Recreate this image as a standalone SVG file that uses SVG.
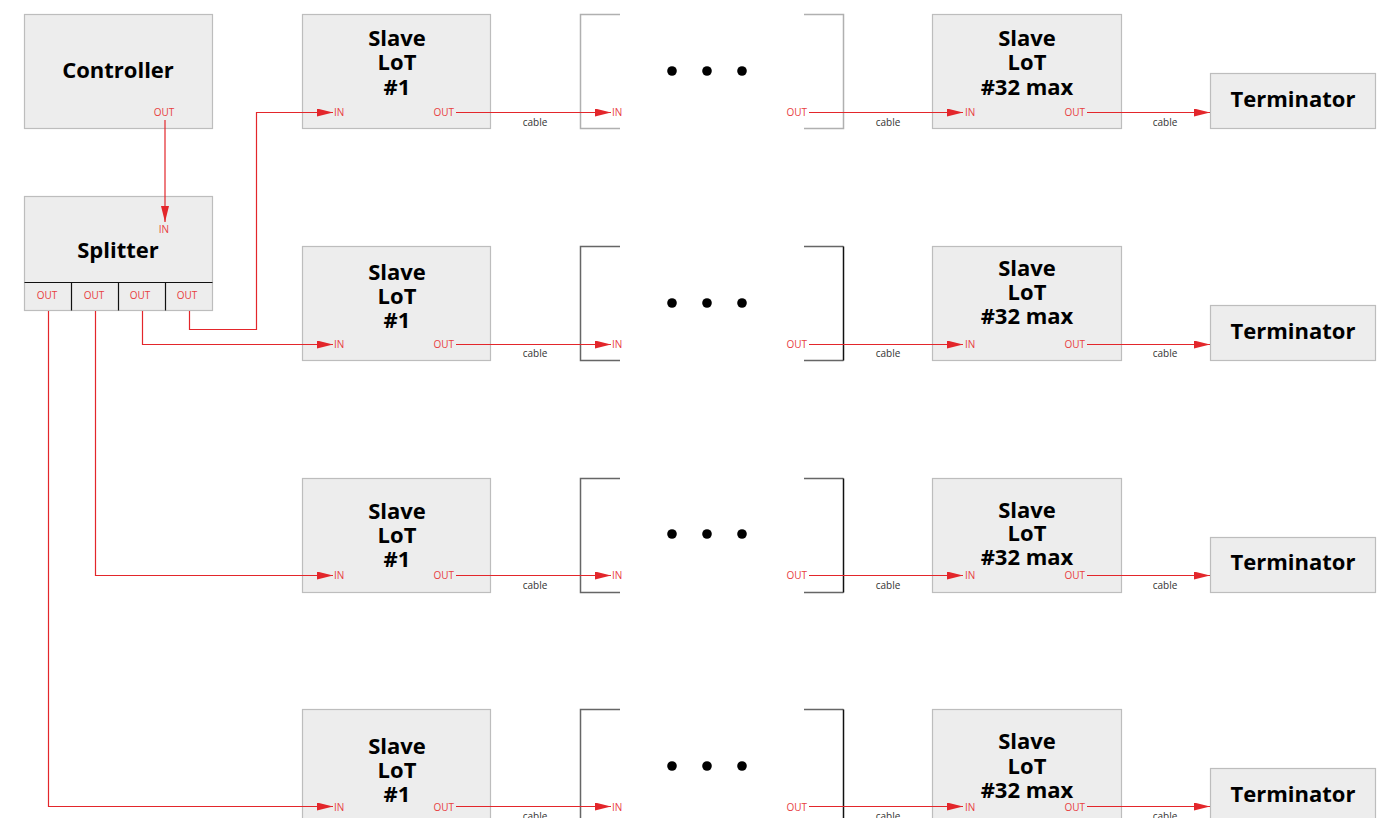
<svg xmlns="http://www.w3.org/2000/svg" width="1385" height="818" viewBox="0 0 1385 818">
<style>
.box{fill:#ededed;stroke:#bdbdbd;stroke-width:1.2}
.t{font-family:"Open Sans","Noto Sans",sans-serif;font-weight:bold;font-size:22px;fill:#000;text-anchor:middle}
.p{font-family:"Open Sans","Noto Sans",sans-serif;font-size:10px;fill:#e8403f}
.pm{text-anchor:middle}
.pe{text-anchor:end}
.c{font-family:"Open Sans","Noto Sans",sans-serif;font-size:10px;fill:#333;text-anchor:middle}
.w{fill:none;stroke:#e3262b;stroke-width:1.2}
.br1{fill:none;stroke:#b0b0b0;stroke-width:1.5}
.brl{fill:none;stroke:#666;stroke-width:1.5}
.brr{fill:none;stroke:#111;stroke-width:1.5}
.dv{stroke:#111;stroke-width:1.2}
</style>
<defs>
<marker id="ah" markerWidth="16" markerHeight="8" refX="16" refY="4" orient="auto" markerUnits="userSpaceOnUse">
<path d="M0,0 L16,4 L0,8 z" fill="#e3262b"/>
</marker>
</defs>

<g id="controller">
<rect class="box" x="24.5" y="14.5" width="188" height="114"/>
<text class="t" x="118" y="78">Controller</text>
<text class="p pm" x="164" y="116">OUT</text>
</g>

<g id="splitter">
<rect class="box" x="24.5" y="196.5" width="188" height="114"/>
<text class="p pm" x="164" y="233">IN</text>
<text class="t" x="118" y="258">Splitter</text>
<line class="dv" x1="24.5" y1="282.5" x2="212.5" y2="282.5"/>
<line class="dv" x1="71.5" y1="282.5" x2="71.5" y2="310.5"/>
<line class="dv" x1="118.5" y1="282.5" x2="118.5" y2="310.5"/>
<line class="dv" x1="165.5" y1="282.5" x2="165.5" y2="310.5"/>
<text class="p pm" x="47" y="299">OUT</text>
<text class="p pm" x="94" y="299">OUT</text>
<text class="p pm" x="140" y="299">OUT</text>
<text class="p pm" x="187" y="299">OUT</text>
</g>

<!-- Row 1 -->
<g id="slave1-r1">
<rect class="box" x="302.5" y="14.5" width="188" height="114"/>
<text class="t" x="397" y="46">Slave</text>
<text class="t" x="397" y="70">LoT</text>
<text class="t" x="397" y="95">#1</text>
<text class="p" x="334" y="116">IN</text>
<text class="p pe" x="454" y="116">OUT</text>
</g>
<g id="gap-r1">
<path class="br1" d="M620,14.5 H580.5 V128.5 H620"/>
<path class="br1" d="M804,14.5 H843.5 V128.5 H804"/>
<circle cx="672" cy="71" r="4.8"/><circle cx="707" cy="71" r="4.8"/><circle cx="742" cy="71" r="4.8"/>
<text class="p" x="612" y="116">IN</text>
<text class="p pe" x="807" y="116">OUT</text>
</g>
<g id="slave32-r1">
<rect class="box" x="932.5" y="14.5" width="189" height="114"/>
<text class="t" x="1027" y="46">Slave</text>
<text class="t" x="1027" y="70">LoT</text>
<text class="t" x="1027" y="95">#32 max</text>
<text class="p" x="965" y="116">IN</text>
<text class="p pe" x="1085" y="116">OUT</text>
</g>
<g id="term-r1">
<rect class="box" x="1210.5" y="73.5" width="165" height="55"/>
<text class="t" x="1293" y="107">Terminator</text>
</g>

<!-- Row 2 -->
<g id="slave1-r2">
<rect class="box" x="302.5" y="246.5" width="188" height="114"/>
<text class="t" x="397" y="280">Slave</text>
<text class="t" x="397" y="304">LoT</text>
<text class="t" x="397" y="328">#1</text>
<text class="p" x="334" y="348">IN</text>
<text class="p pe" x="454" y="348">OUT</text>
</g>
<g id="gap-r2">
<path class="brl" d="M620,246.5 H580.5 V360.5 H620"/>
<path class="brl" d="M804,246.5 H843.5 M804,360.5 H843.5"/>
<path class="brr" d="M843.5,246.5 V360.5"/>
<circle cx="672" cy="303" r="4.8"/><circle cx="707" cy="303" r="4.8"/><circle cx="742" cy="303" r="4.8"/>
<text class="p" x="612" y="348">IN</text>
<text class="p pe" x="807" y="348">OUT</text>
</g>
<g id="slave32-r2">
<rect class="box" x="932.5" y="246.5" width="189" height="114"/>
<text class="t" x="1027" y="276">Slave</text>
<text class="t" x="1027" y="300">LoT</text>
<text class="t" x="1027" y="324">#32 max</text>
<text class="p" x="965" y="348">IN</text>
<text class="p pe" x="1085" y="348">OUT</text>
</g>
<g id="term-r2">
<rect class="box" x="1210.5" y="305.5" width="165" height="55"/>
<text class="t" x="1293" y="339">Terminator</text>
</g>

<!-- Row 3 -->
<g id="slave1-r3">
<rect class="box" x="302.5" y="478.5" width="188" height="114"/>
<text class="t" x="397" y="519">Slave</text>
<text class="t" x="397" y="543">LoT</text>
<text class="t" x="397" y="567">#1</text>
<text class="p" x="334" y="579">IN</text>
<text class="p pe" x="454" y="579">OUT</text>
</g>
<g id="gap-r3">
<path class="brl" d="M620,478.5 H580.5 V592.5 H620"/>
<path class="brl" d="M804,478.5 H843.5 M804,592.5 H843.5"/>
<path class="brr" d="M843.5,478.5 V592.5"/>
<circle cx="672" cy="534" r="4.8"/><circle cx="707" cy="534" r="4.8"/><circle cx="742" cy="534" r="4.8"/>
<text class="p" x="612" y="579">IN</text>
<text class="p pe" x="807" y="579">OUT</text>
</g>
<g id="slave32-r3">
<rect class="box" x="932.5" y="478.5" width="189" height="114"/>
<text class="t" x="1027" y="518">Slave</text>
<text class="t" x="1027" y="541">LoT</text>
<text class="t" x="1027" y="565">#32 max</text>
<text class="p" x="965" y="579">IN</text>
<text class="p pe" x="1085" y="579">OUT</text>
</g>
<g id="term-r3">
<rect class="box" x="1210.5" y="537.5" width="165" height="55"/>
<text class="t" x="1293" y="570">Terminator</text>
</g>

<!-- Row 4 -->
<g id="slave1-r4">
<rect class="box" x="302.5" y="709.5" width="188" height="114"/>
<text class="t" x="397" y="754">Slave</text>
<text class="t" x="397" y="778">LoT</text>
<text class="t" x="397" y="802">#1</text>
<text class="p" x="334" y="811">IN</text>
<text class="p pe" x="454" y="811">OUT</text>
</g>
<g id="gap-r4">
<path class="brl" d="M620,709.5 H580.5 V823.5 H620"/>
<path class="brl" d="M804,709.5 H843.5 M804,823.5 H843.5"/>
<path class="brr" d="M843.5,709.5 V823.5"/>
<circle cx="672" cy="766" r="4.8"/><circle cx="707" cy="766" r="4.8"/><circle cx="742" cy="766" r="4.8"/>
<text class="p" x="612" y="811">IN</text>
<text class="p pe" x="807" y="811">OUT</text>
</g>
<g id="slave32-r4">
<rect class="box" x="932.5" y="709.5" width="189" height="114"/>
<text class="t" x="1027" y="749">Slave</text>
<text class="t" x="1027" y="774">LoT</text>
<text class="t" x="1027" y="798">#32 max</text>
<text class="p" x="965" y="811">IN</text>
<text class="p pe" x="1085" y="811">OUT</text>
</g>
<g id="term-r4">
<rect class="box" x="1210.5" y="768.5" width="165" height="55"/>
<text class="t" x="1293" y="802">Terminator</text>
</g>

<g id="connectors">
<path class="w" d="M165,120 V222" marker-end="url(#ah)"/>
<path class="w" d="M189.5,311 V329.5 H256.5 V112.5 H333" marker-end="url(#ah)"/>
<path class="w" d="M142.5,311 V344.5 H333" marker-end="url(#ah)"/>
<path class="w" d="M95.5,311 V575.5 H333" marker-end="url(#ah)"/>
<path class="w" d="M48.5,311 V806.5 H333" marker-end="url(#ah)"/>

<path class="w" d="M456,112.5 H611" marker-end="url(#ah)"/>
<path class="w" d="M809,112.5 H963" marker-end="url(#ah)"/>
<path class="w" d="M1087,112.5 H1210" marker-end="url(#ah)"/>
<text class="c" x="535" y="126">cable</text>
<text class="c" x="888" y="126">cable</text>
<text class="c" x="1165" y="126">cable</text>

<path class="w" d="M456,344.5 H611" marker-end="url(#ah)"/>
<path class="w" d="M809,344.5 H963" marker-end="url(#ah)"/>
<path class="w" d="M1087,344.5 H1210" marker-end="url(#ah)"/>
<text class="c" x="535" y="357">cable</text>
<text class="c" x="888" y="357">cable</text>
<text class="c" x="1165" y="357">cable</text>

<path class="w" d="M456,575.5 H611" marker-end="url(#ah)"/>
<path class="w" d="M809,575.5 H963" marker-end="url(#ah)"/>
<path class="w" d="M1087,575.5 H1210" marker-end="url(#ah)"/>
<text class="c" x="535" y="589">cable</text>
<text class="c" x="888" y="589">cable</text>
<text class="c" x="1165" y="589">cable</text>

<path class="w" d="M456,806.5 H611" marker-end="url(#ah)"/>
<path class="w" d="M809,806.5 H963" marker-end="url(#ah)"/>
<path class="w" d="M1087,806.5 H1210" marker-end="url(#ah)"/>
<text class="c" x="535" y="820">cable</text>
<text class="c" x="888" y="820">cable</text>
<text class="c" x="1165" y="820">cable</text>
</g>
</svg>
